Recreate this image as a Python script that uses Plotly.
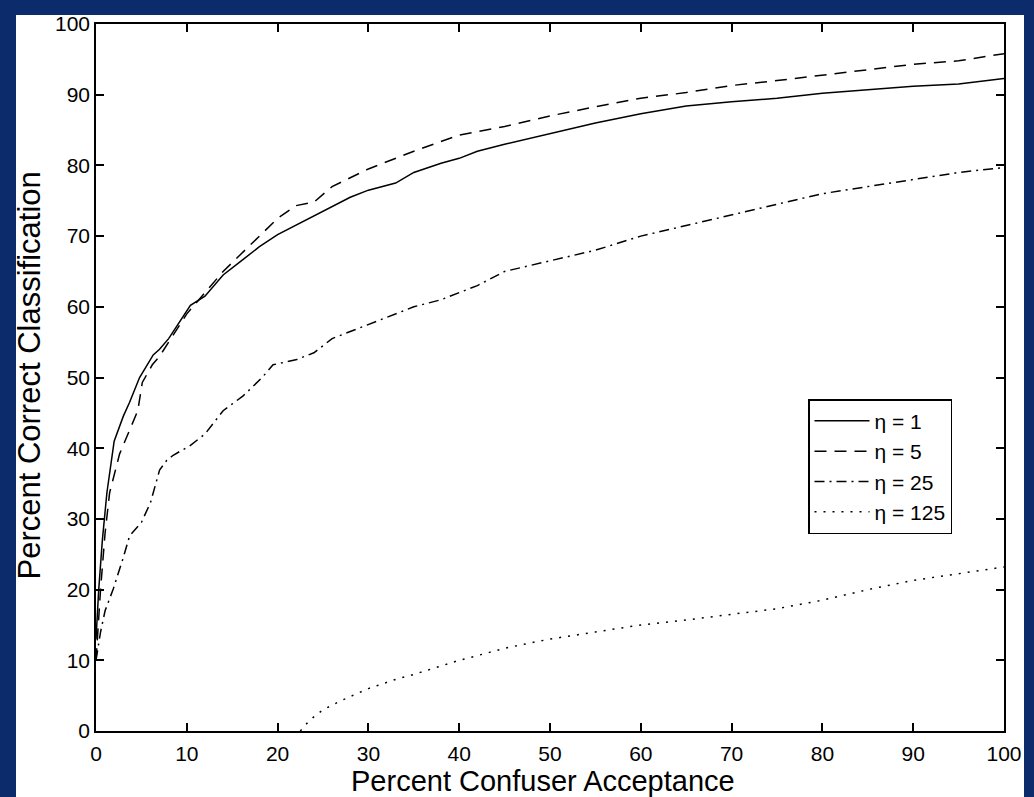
import plotly.graph_objects as go

# ---- data ----
x_eta1 = [0, 0.3, 0.7, 1.2, 2, 3, 3.7, 4.8, 6.3, 7, 8, 9.2, 10.4, 12, 14, 16, 18, 20, 22, 25, 28, 30, 33, 35, 38, 40, 42, 45, 50, 55, 60, 65, 70, 75, 80, 85, 90, 95, 100]
y_eta1 = [13, 20, 27, 33.7, 41, 44.5, 46.5, 50, 53.2, 54, 55.5, 57.8, 60.2, 61.5, 64.5, 66.5, 68.5, 70.2, 71.5, 73.5, 75.5, 76.5, 77.5, 79, 80.3, 81, 82, 83, 84.5, 86, 87.3, 88.4, 89, 89.5, 90.2, 90.7, 91.2, 91.5, 92.3]

x_eta5 = [0, 0.5, 1, 1.5, 2.6, 3.5, 4.6, 5.1, 6.2, 7, 8, 9, 10, 12, 14, 16, 18, 20, 22, 24, 26, 28, 30, 35, 40, 45, 50, 55, 60, 65, 70, 75, 80, 85, 90, 95, 100]
y_eta5 = [10, 20, 28, 33.7, 39.2, 42, 45.3, 49.3, 51.8, 53, 55, 57, 59, 62, 65, 67.5, 70, 72.5, 74.3, 74.8, 77, 78.3, 79.5, 82, 84.3, 85.5, 87, 88.3, 89.5, 90.3, 91.3, 92, 92.8, 93.5, 94.3, 94.8, 95.8]

x_eta25 = [0, 0.5, 1, 1.9, 3, 3.7, 5, 6, 7, 7.8, 8.5, 10.4, 12, 14, 16.2, 18.3, 19.5, 22, 24, 26, 28, 30, 32, 35, 38, 40, 42, 45, 50, 55, 60, 65, 70, 75, 80, 85, 90, 95, 100]
y_eta25 = [10, 14, 17, 20.1, 24.5, 27.6, 29.5, 32.3, 36.9, 38.3, 39, 40.4, 42, 45.3, 47.4, 50, 51.8, 52.5, 53.5, 55.5, 56.5, 57.5, 58.5, 60, 61, 62, 63, 65, 66.5, 68, 70, 71.5, 73, 74.5, 76, 77, 78, 79, 79.7]

x_eta125 = [22.5, 23.5, 25, 27, 30, 33, 35, 38, 40, 43, 45, 48, 50, 55, 60, 65, 70, 75, 80, 85, 90, 95, 100]
y_eta125 = [0, 1.5, 3, 4.3, 6, 7.3, 8, 9.2, 10, 11, 11.7, 12.5, 13, 14, 15, 15.7, 16.5, 17.3, 18.5, 20, 21.3, 22.2, 23.2]

series_names = ["η = 1", "η = 5", "η = 25", "η = 125"]
tick_vals = [0, 10, 20, 30, 40, 50, 60, 70, 80, 90, 100]
x_title = "Percent Confuser Acceptance"
y_title = "Percent Correct Classification"

# ---- style ----
BLUE = "#0c2b6b"
FONT = "Liberation Sans, Arial, Helvetica, sans-serif"
dashes = ["solid", "12px,8px", "10px,5px,2px,5px", "2px,7px"]
W, H = 1034, 797
L, R, T, B = 96, 30, 15, 66
pw, ph = W - L - R, H - T - B

fig = go.Figure()
for xs, ys, name, d in zip([x_eta1, x_eta5, x_eta25, x_eta125],
                           [y_eta1, y_eta5, y_eta25, y_eta125],
                           series_names, dashes):
    fig.add_trace(go.Scatter(x=xs, y=ys, mode="lines", name=name,
                             line=dict(color="black", width=1.5, dash=d)))

axis_common = dict(
    range=[0, 100], tickvals=tick_vals, ticks="inside", ticklen=8,
    tickwidth=1.5, tickcolor="black", showline=True, linecolor="black",
    linewidth=1.5, mirror="ticks", showgrid=False, zeroline=False,
    tickfont=dict(family=FONT, size=21, color="black"),
)
fig.update_xaxes(ticklabelstandoff=3, **axis_common)
fig.update_yaxes(ticklabelstandoff=0, **axis_common)

def px_to_paper_x(px):
    return (px - L) / pw

def px_to_paper_y(py):
    return (H - B - py) / ph

fig.add_shape(type="rect", xref="paper", yref="paper", layer="below",
              x0=px_to_paper_x(16), x1=px_to_paper_x(1024),
              y0=px_to_paper_y(800), y1=px_to_paper_y(6),
              fillcolor="white", line=dict(width=0))

fig.add_annotation(text=x_title, xref="paper", yref="paper",
                   x=px_to_paper_x(543), y=px_to_paper_y(800),
                   xanchor="center", yanchor="bottom", showarrow=False,
                   font=dict(family=FONT, size=29, color="black"))
fig.add_annotation(text=y_title, xref="paper", yref="paper",
                   x=px_to_paper_x(30), y=px_to_paper_y(371),
                   xanchor="center", yanchor="middle", showarrow=False,
                   textangle=-90,
                   font=dict(family=FONT, size=31, color="black"))

fig.update_layout(
    width=W, height=H,
    margin=dict(l=L, r=R, t=T, b=B),
    paper_bgcolor=BLUE, plot_bgcolor="white",
    showlegend=True,
    legend=dict(x=px_to_paper_x(808), y=px_to_paper_y(395),
                xanchor="left", yanchor="top",
                bgcolor="white", bordercolor="black", borderwidth=1.5,
                font=dict(family=FONT, size=21, color="black"),
                tracegroupgap=0, itemwidth=55),
)

fig.write_html(
    "out.html",
    config={"displayModeBar": False},
    post_script="document.body.style.margin='0px';"
                "document.body.style.padding='0px';"
                "document.body.style.overflow='hidden';"
                "document.body.style.background='" + BLUE + "';",
)
